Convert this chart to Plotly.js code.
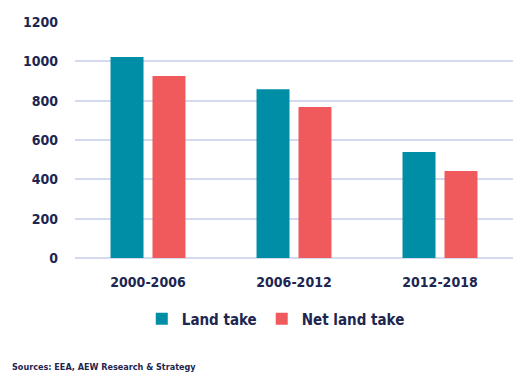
<!DOCTYPE html>
<html>
<head>
<meta charset="utf-8">
<script src="https://cdn.plot.ly/plotly-3.0.1.min.js"></script>
<style>html,body{margin:0;padding:0;background:#fff;}#chart{width:531px;height:382px;}</style>
</head>
<body>
<div id="chart"></div>
<script>
const periods = ["2000-2006", "2006-2012", "2012-2018"];
const landTake = [1022, 858, 539];
const netLandTake = [925, 768, 442];
const seriesNames = ["Land take", "Net land take"];
const yTicks = [0, 200, 400, 600, 800, 1000, 1200];
const sourceText = "Sources: EEA, AEW Research & Strategy";

const navy = "#1d2650";
const font = "'DejaVu Sans Condensed', 'DejaVu Sans', sans-serif";

const traces = [
  {type: "bar", name: seriesNames[0], x: periods, y: landTake, marker: {color: "#008ea6"}, hoverinfo: "none"},
  {type: "bar", name: seriesNames[1], x: periods, y: netLandTake, marker: {color: "#f05a5c"}, hoverinfo: "none"}
];

const layout = {
  width: 531, height: 382,
  margin: {l: 75, r: 18, t: 22, b: 124},
  paper_bgcolor: "#fff", plot_bgcolor: "#fff",
  barmode: "group", bargap: 0.425, bargroupgap: 0.214,
  font: {family: font, color: navy, size: 14, stretch: "condensed"},
  showlegend: true,
  legend: {orientation: "h", xref: "container", yref: "container", x: 0.267, y: 0.165, xanchor: "left", yanchor: "middle",
           font: {family: font, size: 15, color: navy, stretch: "condensed", weight: "bold"}, traceorder: "normal"},
  xaxis: {type: "category", range: [-0.5, 2.5], showgrid: false, zeroline: false, showline: false,
          ticks: "", ticklabelstandoff: 14, tickfont: {family: font, size: 14, color: navy, stretch: "condensed", weight: "bold"}},
  yaxis: {range: [0, 1200], tickvals: yTicks, showgrid: true, gridcolor: "#d3d9ee", gridwidth: 2,
          zeroline: true, zerolinecolor: "#d3d9ee", zerolinewidth: 2, showline: false, ticks: "",
          ticklabelstandoff: 16, tickfont: {family: font, size: 14, color: navy, stretch: "condensed", weight: "bold"}},
  annotations: [{text: sourceText, xref: "paper", yref: "paper", x: -0.148, y: -0.462, xanchor: "left", yanchor: "middle",
                 showarrow: false, font: {family: font, size: 9, color: navy, stretch: "condensed", weight: "bold"}}]
};

Plotly.newPlot("chart", traces, layout, {displayModeBar: false, staticPlot: true});
</script>
</body>
</html>
